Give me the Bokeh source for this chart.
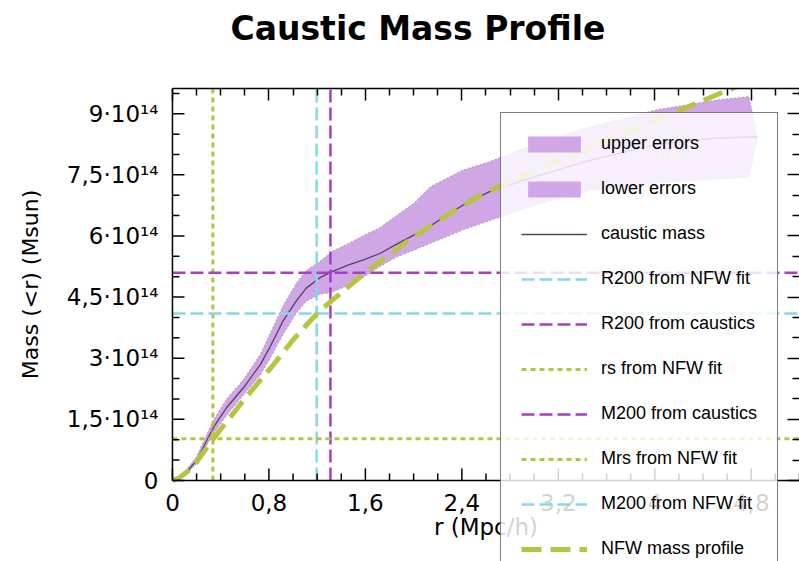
from bokeh.plotting import figure
from bokeh.models import (Range1d, FixedTicker, LinearAxis, Legend, LegendItem,
                          Title, CustomJSTickFormatter)
from bokeh.core.properties import value
from bokeh.embed import file_html
from bokeh.resources import INLINE

# ---------------- data (masses in units of 1e14 Msun, r in Mpc/h) -------------
r_caustic = [0, 0.1, 0.2, 0.34, 0.45, 0.59, 0.73, 0.81, 0.92, 1.03, 1.11, 1.22,
             1.32, 1.45, 1.59, 1.72, 1.86, 2.0, 2.14, 2.41, 2.63, 3.0, 3.47,
             4.02, 4.5, 4.78, 4.85]
m_caustic = [0, 0.15, 0.49, 1.30, 1.79, 2.28, 2.85, 3.28, 3.93, 4.42, 4.72, 4.97,
             5.12, 5.28, 5.42, 5.57, 5.80, 6.02, 6.25, 6.76, 7.09, 7.45, 7.86,
             8.25, 8.40, 8.43, 8.43]
m_upper = [0, 0.2, 0.58, 1.48, 2.0, 2.48, 3.1, 3.6, 4.3, 4.85, 5.15, 5.37,
           5.61, 5.8, 6.02, 6.2, 6.5, 6.8, 7.21, 7.62, 7.82, 8.25, 8.68,
           9.1, 9.33, 9.42, 8.45]
m_lower = [0, 0.1, 0.42, 1.15, 1.6, 2.1, 2.6, 3.0, 3.6, 4.12, 4.4, 4.57,
           4.62, 4.78, 5.0, 5.25, 5.49, 5.65, 5.82, 6.15, 6.38, 6.75, 7.12,
           7.3, 7.4, 7.43, 8.4]

r_nfw = [0, 0.05, 0.17, 0.34, 0.59, 0.84, 1.0, 1.2, 1.36, 1.59, 2.0, 2.41,
         2.66, 3.33, 4.02, 4.62, 5.2]
m_nfw = [0, 0.05, 0.33, 1.03, 1.97, 2.85, 3.45, 4.10, 4.51, 5.08, 5.98, 6.76,
         7.15, 8.0, 8.85, 9.6, 10.2]

r200_nfw = 1.196
r200_caustics = 1.31
rs_nfw = 0.335
m200_caustics = 5.10
mrs_nfw = 1.02
m200_nfw = 4.10

x_ticks = [0, 0.8, 1.6, 2.4, 3.2, 4.0, 4.8]
x_labels = ["0", "0,8", "1,6", "2,4", "3,2", "4", "4,8"]
x_minor = [0.2, 0.4, 0.6, 1.0, 1.2, 1.4, 1.8, 2.0, 2.2, 2.6, 2.8, 3.0, 3.4,
           3.6, 3.8, 4.2, 4.4, 4.6, 5.0, 5.2]
y_ticks = [0, 1.5, 3.0, 4.5, 6.0, 7.5, 9.0]
y_labels = ["0", "1,5·10¹⁴", "3·10¹⁴", "4,5·10¹⁴", "6·10¹⁴", "7,5·10¹⁴", "9·10¹⁴"]
y_minor = [0.5, 1.0, 2.0, 2.5, 3.5, 4.0, 5.0, 5.5, 6.5, 7.0, 8.0, 8.5, 9.5]

# axis extents (data) and the extra view room around them
X_MIN, X_MAX = 0, 5.2
Y_MIN, Y_MAX = 0, 9.62
X_VIEW_MIN = -1.426   # room at the left for the vertical axis texts
Y_VIEW_MIN = -1.99    # room below the axis so the legend can run past it

# ---------------- styles -------------------------------------------------------
PURPLE = "#a43fc6"
CYAN = "#84d9e8"
GREEN = "#b5c540"
BAND = "#d0a6e6"
FONT = "DejaVu Sans"
TXT = dict(text_font=value(FONT), text_font_size="23px", text_color="black")

p = figure(width=799, height=561, output_backend="svg", toolbar_location=None,
           x_range=Range1d(X_VIEW_MIN, X_MAX), y_range=Range1d(Y_VIEW_MIN, Y_MAX),
           x_axis_location=None, y_axis_location=None,
           min_border_left=0, min_border_right=0, min_border_top=88,
           min_border_bottom=0, background_fill_color="white",
           border_fill_color="white")
p.grid.visible = False
p.outline_line_color = None

empty = CustomJSTickFormatter(code="return ''")


def mirror_axis(ax, ticks, minor):
    ax.ticker = FixedTicker(ticks=ticks, minor_ticks=minor)
    ax.formatter = empty
    ax.major_label_standoff = 0
    ax.axis_line_color = "black"
    ax.axis_line_width = 1.5
    ax.major_tick_line_color = "black"
    ax.major_tick_line_width = 1.5
    ax.minor_tick_line_color = "black"
    ax.minor_tick_line_width = 1.5
    ax.major_tick_in = 12
    ax.major_tick_out = 0
    ax.minor_tick_in = 7
    ax.minor_tick_out = 0


top_ax = LinearAxis(bounds=(X_MIN, X_MAX))
mirror_axis(top_ax, x_ticks, x_minor)
p.add_layout(top_ax, "above")
spacer = Title(text=" ", text_font_size="1px", standoff=38)
p.add_layout(spacer, "above")
title = Title(text="Caustic Mass Profile", align="left", offset=230,
              text_font=FONT, text_font_style="bold", text_font_size="33px",
              text_color="black", standoff=0)
p.add_layout(title, "above")

right_ax = LinearAxis(bounds=(Y_MIN, Y_MAX))
mirror_axis(right_ax, y_ticks, y_minor)
right_ax.axis_line_color = None
p.add_layout(right_ax, "right")

# ---------------- glyphs -------------------------------------------------------
band_up = p.varea(x=r_caustic, y1=m_caustic, y2=m_upper, fill_color=BAND)
band_lo = p.varea(x=r_caustic, y1=m_lower, y2=m_caustic, fill_color=BAND)
p.line(r_caustic, m_upper, line_color="#a898ac", line_width=1, line_dash="2 2")
p.line(r_caustic, m_lower, line_color="#a898ac", line_width=1, line_dash="2 2")

caustic_line = p.line(r_caustic, m_caustic, line_color="#54405f", line_width=1.3)

DASH = dict(line_width=2.5, line_dash="13 5")
DOT = dict(line_width=3, line_dash="5 4")
l_r200_nfw = p.line([r200_nfw, r200_nfw], [Y_MIN, Y_MAX], line_color=CYAN, **DASH)
l_r200_c = p.line([r200_caustics, r200_caustics], [Y_MIN, Y_MAX],
                  line_color=PURPLE, **DASH)
l_rs = p.line([rs_nfw, rs_nfw], [Y_MIN, Y_MAX], line_color=GREEN, **DOT)
l_m200_c = p.line([X_MIN, X_MAX], [m200_caustics, m200_caustics],
                  line_color=PURPLE, **DASH)
l_mrs = p.line([X_MIN, X_MAX], [mrs_nfw, mrs_nfw], line_color=GREEN, **DOT)
l_m200_nfw = p.line([X_MIN, X_MAX], [m200_nfw, m200_nfw], line_color=CYAN, **DASH)

nfw_line = p.line(r_nfw, m_nfw, line_color=GREEN, line_width=5, line_dash="20 9")

# ---------------- bottom and left axes drawn inside the (extended) frame --------
AX = dict(line_color="black", line_width=1.5)
p.line([X_MIN, X_MAX], [Y_MIN, Y_MIN], **AX)
p.line([X_MIN, X_MIN], [Y_MIN, Y_MAX], **AX)
p.ray(x=x_ticks, y=[Y_MIN] * len(x_ticks), length=12, length_units="screen",
      angle=90, angle_units="deg", **AX)
p.ray(x=x_minor, y=[Y_MIN] * len(x_minor), length=7, length_units="screen",
      angle=90, angle_units="deg", **AX)
p.ray(x=[X_MIN] * len(y_ticks), y=y_ticks, length=12, length_units="screen",
      angle=0, angle_units="deg", **AX)
p.ray(x=[X_MIN] * len(y_minor), y=y_minor, length=7, length_units="screen",
      angle=0, angle_units="deg", **AX)

p.text(x=x_ticks, y=[Y_MIN] * len(x_ticks), text=x_labels, y_offset=22,
       text_align="center", text_baseline="middle", **TXT)
p.text(x=[(X_MIN + X_MAX) / 2], y=[Y_MIN], text=["r (Mpc/h)"], y_offset=47,
       text_align="center", text_baseline="middle", **TXT)
p.text(x=[X_MIN] * len(y_ticks), y=y_ticks, text=y_labels, x_offset=-14,
       text_align="right", text_baseline="middle", **TXT)
p.text(x=[X_MIN], y=[(Y_MIN + Y_MAX) / 2], text=["Mass (<r) (Msun)"],
       x_offset=-142, angle=90, angle_units="deg", text_align="center",
       text_baseline="middle", text_font=value(FONT), text_font_size="22px",
       text_color="black")

# ---------------- legend -------------------------------------------------------
items = [
    LegendItem(label="upper errors", renderers=[band_up]),
    LegendItem(label="lower errors", renderers=[band_lo]),
    LegendItem(label="caustic mass", renderers=[caustic_line]),
    LegendItem(label="R200 from NFW fit", renderers=[l_r200_nfw]),
    LegendItem(label="R200 from caustics", renderers=[l_r200_c]),
    LegendItem(label="rs from NFW fit", renderers=[l_rs]),
    LegendItem(label="M200 from caustics", renderers=[l_m200_c]),
    LegendItem(label="Mrs from NFW fit", renderers=[l_mrs]),
    LegendItem(label="M200 from NFW fit", renderers=[l_m200_nfw]),
    LegendItem(label="NFW mass profile", renderers=[nfw_line]),
]
legend = Legend(items=items, location=(500, -19), orientation="vertical",
                label_text_font="Liberation Sans", label_text_font_size="18px",
                label_text_color="black", glyph_width=66, glyph_height=20,
                label_height=20, spacing=24, padding=20, margin=0,
                label_standoff=14, border_line_color="black",
                border_line_width=1.5, background_fill_color="white",
                background_fill_alpha=0.82)
p.add_layout(legend)

open("out.html", "w").write(file_html(p, INLINE))
